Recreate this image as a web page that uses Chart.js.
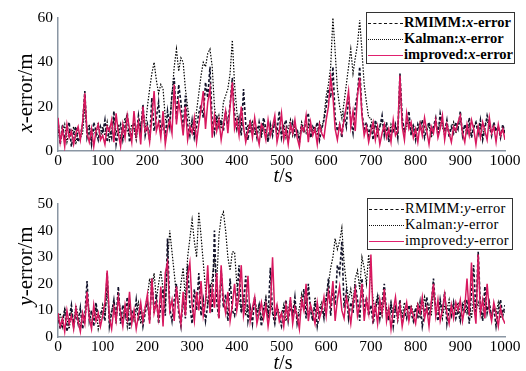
<!DOCTYPE html>
<html>
<head>
<meta charset="utf-8">
<script src="https://cdn.jsdelivr.net/npm/chart.js@4.4.0/dist/chart.umd.min.js"></script>
<style>
  body { margin: 0; background: #fff; width: 526px; height: 371px; position: relative; overflow: hidden; font-family: "Liberation Serif", "Times New Roman", serif; color: #000; }
  .box { position: absolute; left: 0; width: 526px; }
  #topBox { top: 0; height: 185px; }
  #botBox { top: 185px; height: 186px; }
  .xt { position: absolute; font-size: 20px; transform: translate(-50%, -50%); white-space: nowrap; }
  .yt { position: absolute; font-size: 21px; transform: translate(-50%, -50%) rotate(-90deg); white-space: nowrap; }
  .legend { position: absolute; border: 1px solid #333; background: #fff; font-size: 14.5px; box-sizing: border-box; padding: 1px 2px 0 1px; }
  .legend div { height: 16px; line-height: 16px; white-space: nowrap; }
  .smp { display: inline-block; width: 35px; vertical-align: middle; margin-right: 1px; }
  .dash { border-top: 1.5px dashed #111; }
  .dot { border-top: 1px dotted #111; }
  .solid { border-top: 1.5px solid #e0206e; }
  #legBot { letter-spacing: 0.3px; }
</style>
</head>
<body>
<div class="box" id="topBox"><canvas id="cTop" width="526" height="185"></canvas></div>
<div class="box" id="botBox"><canvas id="cBot" width="526" height="186"></canvas></div>

<div class="yt" style="left:25px; top:93px;"><i>x</i>-error/m</div>
<div class="xt" style="left:283px; top:175px;"><i>t</i>/s</div>
<div class="yt" style="left:25px; top:266px;"><i>y</i>-error/m</div>
<div class="xt" style="left:283px; top:362px;"><i>t</i>/s</div>

<div class="legend" id="legTop" style="left:366px; top:12px; width:149px; height:52px; font-weight:bold;">
  <div><span class="smp dash"></span>RMIMM:<i>x</i>-error</div>
  <div><span class="smp dot"></span>Kalman:<i>x</i>-error</div>
  <div><span class="smp solid"></span>improved:<i>x</i>-error</div>
</div>
<div class="legend" id="legBot" style="left:367px; top:198px; width:146px; height:52px;">
  <div><span class="smp dash"></span>RMIMM:<i>y</i>-error</div>
  <div><span class="smp dot"></span>Kalman:<i>y</i>-error</div>
  <div><span class="smp solid"></span>improved:<i>y</i>-error</div>
</div>

<script>
// шаг по времени, с
const T_STEP = 5;

// x-error, м (каждые 5 с, 0..1000)
const rmimmX = [
  14, 3, 12, 5, 9, 13, 2, 8, 11, 4, 7, 12, 27, 6, 10, 3, 13, 9, 5, 11,
  8, 14, 4, 10, 6, 18, 3, 9, 12, 5, 11, 17, 4, 8, 13, 6, 16, 9, 21, 7,
  12, 5, 24, 9, 15, 22, 8, 13, 6, 18, 11, 26, 33, 14, 30, 22, 9, 25, 12, 7,
  14, 6, 11, 17, 21, 15, 31, 24, 38, 13, 8, 16, 11, 14, 9, 18, 12, 21, 33, 17,
  10, 15, 7, 28, 12, 5, 14, 9, 11, 6, 13, 8, 15, 10, 4, 12, 7, 14, 9, 18,
  6, 11, 14, 5, 9, 13, 7, 10, 4, 12, 8, 15, 17, 6, 11, 9, 13, 5, 10, 14,
  20, 28, 24, 38, 15, 9, 12, 6, 16, 11, 25, 14, 8, 20, 26, 38, 17, 10, 13, 7,
  12, 5, 14, 9, 11, 16, 7, 13, 4, 10, 8, 12, 6, 35, 15, 9, 13, 18, 7, 11,
  5, 12, 9, 14, 6, 10, 13, 8, 11, 15, 7, 17, 12, 9, 14, 6, 11, 8, 13, 10,
  18, 7, 12, 9, 15, 6, 11, 13, 8, 14, 5, 10, 16, 12, 7, 13, 9, 11, 6, 12,
  8
];
const kalmanX = [
  10, 5, 8, 12, 4, 9, 7, 11, 3, 10, 6, 8, 20, 9, 12, 5, 10, 7, 13, 6,
  11, 7, 13, 5, 9, 14, 8, 12, 6, 10, 15, 9, 7, 12, 10, 5, 13, 11, 18, 9,
  20, 28, 35, 40, 32, 26, 30, 28, 15, 10, 14, 25, 38, 46, 36, 42, 40, 28, 20, 12,
  12, 8, 18, 26, 34, 40, 38, 44, 46, 38, 20, 12, 16, 10, 22, 25, 28, 35, 50, 30,
  18, 8, 14, 10, 6, 12, 9, 13, 7, 11, 10, 6, 12, 8, 5, 11, 9, 13, 7, 10,
  8, 12, 6, 10, 14, 7, 11, 9, 5, 13, 10, 8, 12, 6, 9, 11, 7, 13, 10, 15,
  25, 30, 38, 60, 45, 28, 20, 15, 22, 30, 38, 46, 35, 42, 48, 59, 45, 30, 22, 15,
  15, 9, 12, 7, 11, 14, 8, 10, 6, 12, 9, 11, 7, 30, 13, 8, 11, 14, 9, 12,
  7, 10, 13, 8, 11, 9, 12, 6, 10, 13, 8, 14, 11, 7, 12, 9, 10, 13, 8, 11,
  14, 9, 11, 8, 12, 7, 10, 13, 9, 11, 6, 12, 14, 10, 8, 12, 9, 11, 7, 10,
  9
];
const improvedX = [
  15, 4, 10, 2, 12, 6, 9, 3, 8, 11, 5, 13, 26, 8, 4, 10, 2, 9, 12, 5,
  7, 3, 11, 9, 14, 4, 17, 8, 2, 12, 6, 16, 10, 4, 18, 7, 13, 3, 20, 9,
  11, 4, 15, 27, 9, 13, 6, 18, 3, 10, 14, 8, 30, 12, 22, 16, 7, 20, 5, 11,
  8, 15, 4, 12, 19, 27, 10, 22, 28, 6, 16, 9, 14, 5, 12, 18, 8, 20, 31, 10,
  14, 7, 20, 11, 4, 9, 13, 6, 15, 8, 3, 12, 10, 5, 14, 7, 11, 16, 4, 9,
  17, 5, 10, 3, 12, 8, 14, 6, 2, 11, 9, 16, 4, 13, 7, 10, 3, 12, 8, 6,
  14, 20, 33, 25, 10, 5, 12, 8, 14, 20, 27, 11, 18, 9, 25, 33, 16, 7, 11, 4,
  9, 13, 5, 11, 3, 8, 12, 6, 10, 4, 14, 7, 9, 34, 11, 5, 17, 10, 13, 6,
  10, 4, 12, 7, 15, 9, 3, 11, 8, 14, 6, 10, 16, 5, 12, 8, 4, 11, 9, 13,
  16, 8, 4, 12, 7, 14, 10, 3, 11, 6, 13, 9, 5, 15, 8, 11, 4, 12, 7, 10,
  5
];

// y-error, м
const rmimmY = [
  8, 3, 6, 10, 2, 7, 12, 4, 9, 5, 11, 3, 8, 21, 6, 10, 4, 13, 7, 9,
  10, 6, 24, 4, 9, 14, 7, 19, 5, 12, 8, 15, 3, 10, 7, 14, 6, 11, 4, 9,
  13, 6, 22, 9, 16, 5, 12, 18, 8, 37, 11, 6, 14, 20, 9, 4, 15, 7, 27, 12,
  5, 18, 10, 24, 8, 14, 6, 12, 20, 9, 40, 13, 7, 25, 11, 16, 6, 22, 10, 8,
  14, 27, 9, 13, 23, 6, 11, 5, 15, 8, 12, 4, 10, 14, 7, 26, 9, 5, 11, 7,
  4, 10, 14, 6, 12, 8, 15, 5, 9, 11, 18, 7, 20, 10, 6, 13, 4, 9, 12, 7,
  14, 22, 8, 19, 12, 27, 24, 36, 11, 17, 7, 13, 9, 20, 14, 6, 22, 10, 15, 8,
  12, 5, 10, 15, 7, 13, 20, 9, 6, 12, 4, 11, 8, 14, 5, 10, 7, 12, 9, 6,
  11, 7, 13, 4, 9, 15, 8, 12, 22, 10, 6, 14, 9, 17, 5, 11, 8, 13, 7, 10,
  6, 12, 9, 14, 5, 17, 27, 8, 32, 12, 6, 19, 9, 13, 7, 11, 4, 10, 14, 8,
  12
];
const kalmanY = [
  6, 9, 4, 11, 7, 3, 10, 5, 12, 8, 4, 9, 6, 14, 10, 5, 8, 11, 3, 7,
  12, 8, 20, 6, 10, 13, 5, 16, 9, 7, 11, 4, 12, 8, 6, 10, 13, 5, 9, 11,
  15, 22, 18, 24, 14, 20, 25, 18, 12, 28, 40, 32, 24, 16, 12, 20, 26, 14, 30, 37,
  44, 36, 30, 47, 38, 28, 18, 12, 16, 22, 30, 20, 38, 45, 47, 40, 30, 25, 32, 32,
  20, 14, 10, 16, 8, 12, 6, 10, 14, 9, 12, 7, 11, 15, 8, 13, 10, 6, 12, 9,
  8, 12, 6, 10, 14, 9, 13, 7, 11, 16, 10, 14, 8, 12, 6, 15, 9, 11, 13, 8,
  15, 20, 26, 30, 37, 33, 36, 41, 28, 20, 14, 18, 12, 22, 25, 18, 30, 26, 20, 31,
  22, 14, 10, 16, 12, 8, 14, 11, 7, 13, 9, 12, 6, 11, 8, 13, 10, 7, 12, 9,
  10, 13, 7, 11, 15, 9, 12, 8, 17, 11, 9, 13, 7, 12, 10, 14, 8, 11, 9, 13,
  8, 11, 14, 9, 12, 7, 15, 10, 13, 9, 7, 14, 10, 12, 8, 11, 9, 13, 7, 10,
  9
];
const improvedY = [
  9, 4, 7, 2, 10, 5, 8, 3, 11, 6, 2, 9, 5, 17, 7, 3, 12, 6, 9, 4,
  8, 13, 25, 7, 3, 11, 6, 15, 9, 4, 12, 7, 17, 5, 10, 3, 8, 13, 6, 11,
  16, 5, 22, 9, 13, 7, 19, 4, 24, 28, 10, 14, 6, 19, 11, 5, 17, 8, 23, 28,
  12, 6, 17, 10, 21, 8, 13, 27, 9, 18, 11, 24, 7, 27, 14, 9, 17, 6, 12, 20,
  10, 16, 27, 8, 13, 23, 6, 11, 15, 5, 9, 13, 7, 12, 4, 10, 30, 8, 12, 6,
  9, 4, 12, 7, 15, 5, 11, 8, 3, 14, 10, 20, 6, 12, 9, 5, 13, 7, 10, 15,
  8, 17, 12, 21, 6, 14, 19, 10, 7, 15, 11, 5, 13, 18, 8, 12, 20, 6, 14, 9,
  31, 7, 12, 5, 14, 9, 18, 6, 11, 3, 10, 15, 7, 12, 4, 9, 13, 6, 11, 8,
  5, 12, 9, 15, 7, 11, 4, 13, 20, 8, 14, 6, 10, 16, 9, 5, 12, 7, 13, 10,
  14, 6, 11, 22, 8, 28, 12, 5, 31, 9, 14, 7, 20, 10, 6, 13, 9, 4, 11, 7,
  5
];

const xTicks = [0, 100, 200, 300, 400, 500, 600, 700, 800, 900, 1000];
const yTicksTop = [0, 20, 40, 60];
const yTicksBot = [0, 10, 20, 30, 40, 50];

function toPoints(values) {
  return values.map((v, i) => ({ x: i * T_STEP, y: v }));
}

function makeChart(canvasId, series, yMax, yTicks, padTop, xAxisH) {
  const tickFont = { family: '"Liberation Serif", "Times New Roman", serif', size: 15.5 };
  return new Chart(document.getElementById(canvasId), {
    type: 'line',
    data: {
      datasets: [
        { label: 'improved', data: toPoints(series[2]), borderColor: '#d8185f', borderWidth: 1.5, order: 0 },
        { label: 'RMIMM', data: toPoints(series[0]), borderColor: '#12122a', borderWidth: 1.6, borderDash: [3, 2], order: 1 },
        { label: 'Kalman', data: toPoints(series[1]), borderColor: '#000', borderWidth: 1.2, borderDash: [1.5, 1.5], order: 2 }
      ]
    },
    options: {
      responsive: false,
      animation: false,
      devicePixelRatio: 1,
      layout: { padding: { left: 0, right: 21, top: padTop, bottom: 0 } },
      elements: { point: { radius: 0 }, line: { tension: 0, fill: false } },
      plugins: { legend: { display: false }, tooltip: { enabled: false } },
      scales: {
        x: {
          type: 'linear', min: 0, max: 1000,
          afterBuildTicks: s => { s.ticks = xTicks.map(v => ({ value: v })); },
          afterFit: s => { s.height = xAxisH; },
          grid: { display: false, drawTicks: false },
          border: { color: '#8a96a3', width: 1.5 },
          ticks: { color: '#000', font: tickFont, padding: 1, maxRotation: 0, callback: v => String(v) }
        },
        y: {
          min: 0, max: yMax,
          afterBuildTicks: s => { s.ticks = yTicks.map(v => ({ value: v })); },
          afterFit: s => { s.width = 58; },
          grid: { display: false, drawTicks: false },
          border: { color: '#8a96a3', width: 1.5 },
          ticks: { color: '#000', font: tickFont, padding: 5, callback: v => String(v) }
        }
      }
    }
  });
}

makeChart('cTop', [rmimmX, kalmanX, improvedX], 60, yTicksTop, 18, 34);
makeChart('cBot', [rmimmY, kalmanY, improvedY], 50, yTicksBot, 19, 34);
</script>
</body>
</html>
